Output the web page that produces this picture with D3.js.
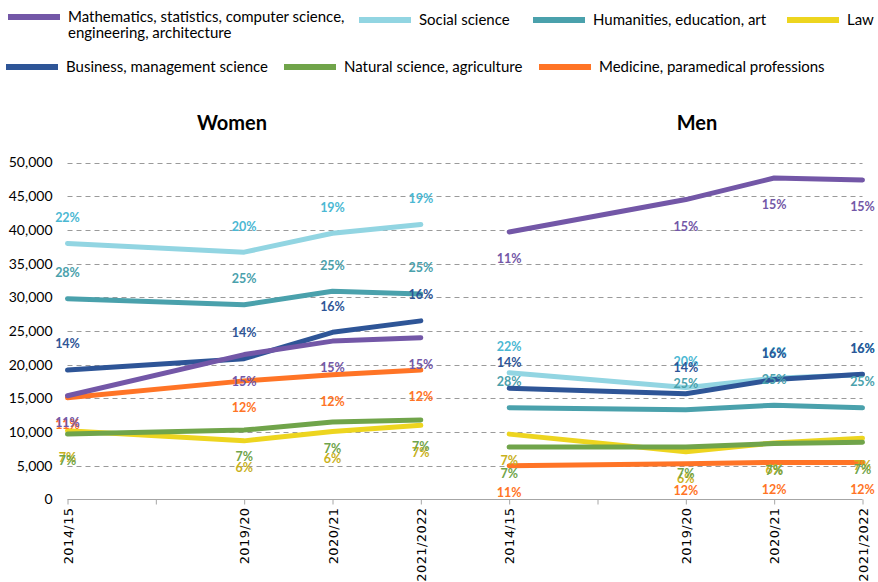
<!DOCTYPE html>
<html><head><meta charset="utf-8">
<script src="https://cdn.jsdelivr.net/npm/d3@7"></script>
<style>body{margin:0;background:#fff}svg{display:block}</style>
</head><body>
<svg id="c" width="878" height="582"></svg>
<script>
// ---- data ----
const groups = ["Women", "Men"];
const slots = ["2014/15", "", "2019/20", "2020/21", "2021/2022"]; // second slot is an empty gap
const years = ["2014/15", "2019/20", "2020/21", "2021/2022"];
const seriesNames = [
  "Mathematics, statistics, computer science, engineering, architecture",
  "Social science", "Humanities, education, art", "Law",
  "Business, management science", "Natural science, agriculture",
  "Medicine, paramedical professions"];
const yTicks = [0, 5000, 10000, 15000, 20000, 25000, 30000, 35000, 40000, 45000, 50000];

// Women
const mathW = [15400, 21500, 23500, 24000];
const socialW = [38000, 36700, 39500, 40800];
const humW = [29800, 28900, 30900, 30500];
const lawW = [10200, 8700, 10100, 11000];
const busW = [19200, 20900, 24800, 26500];
const natW = [9700, 10300, 11500, 11800];
const medW = [15100, 17600, 18500, 19200];
// Men
const mathM = [39700, 44500, 47700, 47400];
const socialM = [18800, 16600, 18000, 18500];
const humM = [13600, 13300, 14000, 13600];
const lawM = [9700, 7100, 8400, 9100];
const busM = [16500, 15700, 17800, 18600];
const natM = [7800, 7800, 8300, 8500];
const medM = [5000, 5300, 5500, 5500];
// shares (data labels)
const mathWp = ["11%", "15%", "15%", "15%"], mathMp = ["11%", "15%", "15%", "15%"];
const socialWp = ["22%", "20%", "19%", "19%"], socialMp = ["22%", "20%", "16%", "16%"];
const humWp = ["28%", "25%", "25%", "25%"], humMp = ["28%", "25%", "25%", "25%"];
const lawWp = ["7%", "6%", "6%", "7%"], lawMp = ["7%", "6%", "6%", "7%"];
const busWp = ["14%", "14%", "16%", "16%"], busMp = ["14%", "14%", "16%", "16%"];
const natWp = ["7%", "7%", "7%", "7%"], natMp = ["7%", "7%", "7%", "7%"];
const medWp = ["11%", "12%", "12%", "12%"], medMp = ["11%", "12%", "12%", "12%"];

// ---- styles ----
const FONT = "Lato, 'Open Sans', sans-serif";
const S = {
  math:   {name: seriesNames[0], line: "#7357A7", lab: "#7357A7", pos: "below", W: mathW, M: mathM, Wp: mathWp, Mp: mathMp},
  social: {name: seriesNames[1], line: "#92D5E2", lab: "#4BB8D3", pos: "above", W: socialW, M: socialM, Wp: socialWp, Mp: socialMp},
  hum:    {name: seriesNames[2], line: "#4AA1AC", lab: "#4AA1AC", pos: "above", W: humW, M: humM, Wp: humWp, Mp: humMp},
  law:    {name: seriesNames[3], line: "#EDD51F", lab: "#C9B11C", pos: "below", W: lawW, M: lawM, Wp: lawWp, Mp: lawMp},
  bus:    {name: seriesNames[4], line: "#2E5597", lab: "#2E5597", pos: "above", W: busW, M: busM, Wp: busWp, Mp: busMp},
  nat:    {name: seriesNames[5], line: "#70A44A", lab: "#70A44A", pos: "below", W: natW, M: natM, Wp: natWp, Mp: natMp},
  med:    {name: seriesNames[6], line: "#FF7426", lab: "#FF7426", pos: "below", W: medW, M: medM, Wp: medWp, Mp: medMp}
};
const drawOrder = ["social", "hum", "law", "nat", "med", "bus", "math"];

const svg = d3.select("#c");
const keys = [];
groups.forEach(g => slots.forEach((s, i) => keys.push(g + "|" + i)));
const x = d3.scalePoint().domain(keys).range([67.5, 862.5]);
const y = d3.scaleLinear().domain([0, 50000]).range([499.5, 162.5]);
const slotOf = yr => slots.indexOf(yr);

// gridlines
svg.append("g").selectAll("line").data(yTicks.filter(v => v > 0)).join("line")
  .attr("x1", 67.5).attr("x2", 862.5)
  .attr("y1", d => Math.round(y(d)) + 0.5).attr("y2", d => Math.round(y(d)) + 0.5)
  .attr("stroke", "#9a9a9a").attr("stroke-width", 1).attr("stroke-dasharray", "5,4");

// y axis
const ya = svg.append("g").attr("transform", "translate(67.5,0)")
  .call(d3.axisLeft(y).tickValues(yTicks).tickFormat(d3.format(",")).tickSize(0).tickPadding(15));
ya.select(".domain").remove();
ya.selectAll("text").attr("font-family", FONT).attr("font-size", 14).attr("fill", "#000");

// x axis
const xa = svg.append("g").attr("transform", "translate(0,499.5)")
  .call(d3.axisBottom(x).tickSize(5).tickFormat(k => slots[+k.split("|")[1]]));
xa.select(".domain").attr("stroke", "#a6a6a6").attr("d", "M67.5,0H862.5");
xa.selectAll(".tick line").attr("stroke", "#a6a6a6");
xa.selectAll(".tick text")
  .attr("transform", "rotate(-90)").attr("text-anchor", "end")
  .attr("x", -8).attr("y", 0).attr("dy", "0.35em")
  .attr("font-family", "'DejaVu Sans', sans-serif").attr("font-size", 13).attr("fill", "#000")
  .attr("letter-spacing", "0.4px");

// panel titles
groups.forEach(g => {
  svg.append("text").attr("x", g === "Women" ? 232 : 697).attr("y", 130)
    .attr("text-anchor", "middle").attr("font-family", FONT).attr("font-weight", "bold")
    .attr("font-size", 20).text(g);
});

// lines
const line = d3.line().x(d => d.x).y(d => d.y);
drawOrder.forEach(k => {
  const s = S[k];
  groups.forEach(g => {
    const vals = g === "Women" ? s.W : s.M;
    const pts = years.map((yr, i) => ({x: x(g + "|" + slotOf(yr)), y: y(vals[i])}));
    svg.append("path").attr("d", line(pts)).attr("fill", "none")
      .attr("stroke", s.line).attr("stroke-width", 5).attr("stroke-linecap", "round")
      .attr("stroke-linejoin", "round");
  });
});

// labels
drawOrder.forEach(k => {
  const s = S[k];
  groups.forEach(g => {
    const vals = g === "Women" ? s.W : s.M;
    const labs = g === "Women" ? s.Wp : s.Mp;
    years.forEach((yr, i) => {
      svg.append("text").attr("x", x(g + "|" + slotOf(yr)))
        .attr("y", y(vals[i]) + (s.pos === "above" ? -26 : 27))
        .attr("dy", "0.35em").attr("text-anchor", "middle")
        .attr("font-family", FONT).attr("font-weight", "bold").attr("font-size", 12.5)
        .attr("fill", s.lab).text(labs[i]);
    });
  });
});

// legend
const legendItems = [
  {k: "math", sx: 8, ty: 17, lines: ["Mathematics, statistics, computer science,", "engineering, architecture"]},
  {k: "social", sx: 359, ty: 20, lines: ["Social science"]},
  {k: "hum", sx: 533, ty: 20, lines: ["Humanities, education, art"]},
  {k: "law", sx: 787, ty: 20, lines: ["Law"]},
  {k: "bus", sx: 6, ty: 67, lines: ["Business, management science"]},
  {k: "nat", sx: 284, ty: 67, lines: ["Natural science, agriculture"]},
  {k: "med", sx: 539, ty: 67, lines: ["Medicine, paramedical professions"]}
];
const lg = svg.append("g");
legendItems.forEach(it => {
  lg.append("rect").attr("x", it.sx).attr("y", it.ty - 3).attr("width", 52).attr("height", 6)
    .attr("fill", S[it.k].line);
  const t = lg.append("text").attr("x", it.sx + 60).attr("y", it.ty)
    .attr("font-family", FONT).attr("font-size", 15).attr("fill", "#000");
  it.lines.forEach((l, j) => t.append("tspan").attr("x", it.sx + 60).attr("dy", j === 0 ? "0.35em" : 16).text(l));
});
</script>
</body></html>
